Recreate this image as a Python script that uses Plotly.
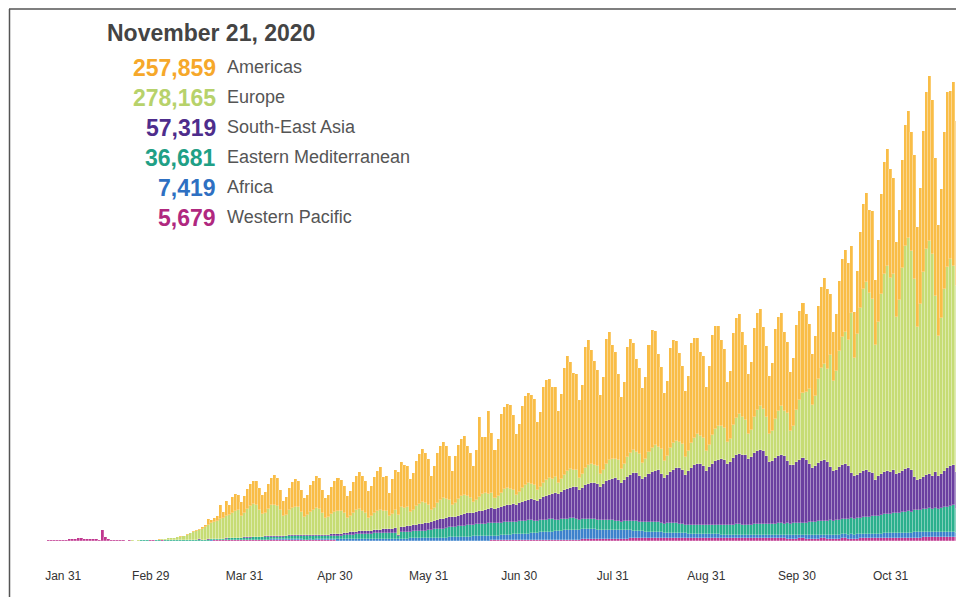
import plotly.graph_objects as go
import pandas as pd

# ---------------- DATA (daily new cases, thousands) ----------------
start_date = "2020-01-23"   # Jan 23 .. Nov 22

western_pacific = [
    0.3, 0.5, 0.7,
    0.8, 1.3, 1.7, 1.5, 1.8, 2.0, 2.1,
    2.6, 2.8, 3.2, 3.9, 3.7, 3.2, 3.4,
    2.7, 3.0, 2.5, 2.0, 15.1, 5.1, 2.6,
    2.1, 2.0, 1.9, 1.8, 0.9, 0.6, 0.9,
    0.6, 0.5, 0.5, 0.6, 0.6, 0.7, 0.8,
    0.8, 0.7, 0.6, 0.8, 0.6, 0.6, 0.5,
    0.5, 0.5, 0.4, 0.4, 0.4, 0.4, 0.4,
    0.4, 0.5, 0.5, 0.5, 0.6, 0.7, 0.9,
    0.9, 0.8, 0.9, 0.9, 1.0, 1.0, 1.1,
    1.0, 0.9, 1.0, 1.0, 1.1, 1.1, 1.0,
    1.1, 1.2, 1.2, 1.2, 1.3, 1.3, 1.2,
    1.4, 1.5, 1.5, 1.5, 1.6, 1.6, 1.5,
    1.2, 1.0, 1.0, 1.0, 0.9, 0.9, 0.9,
    0.8, 0.8, 0.8, 0.8, 0.8, 0.7, 0.7,
    0.6, 0.6, 0.6, 0.6, 0.6, 0.6, 0.6,
    0.6, 0.6, 0.6, 0.6, 0.6, 0.6, 0.6,
    0.5, 0.5, 0.5, 0.5, 0.5, 0.5, 0.5,
    0.5, 0.5, 0.5, 0.5, 0.5, 0.5, 0.5,
    0.6, 0.6, 0.6, 0.6, 0.6, 0.6, 0.6,
    0.7, 0.7, 0.7, 0.7, 0.7, 0.7, 0.7,
    0.7, 0.7, 0.7, 0.7, 0.7, 0.7, 0.7,
    0.8, 0.8, 0.8, 0.8, 0.8, 0.8, 0.8,
    0.9, 0.9, 1.0, 1.0, 1.0, 1.1, 1.1,
    1.1, 1.1, 1.2, 1.2, 1.2, 1.3, 1.3,
    1.6, 1.7, 1.7, 1.8, 1.9, 1.9, 2.0,
    2.1, 2.1, 2.2, 2.2, 2.3, 2.3, 2.4,
    2.6, 2.6, 2.7, 2.8, 2.9, 3.0, 3.0,
    3.2, 3.3, 3.4, 3.5, 3.6, 3.7, 3.7,
    3.8, 3.9, 4.0, 4.0, 4.1, 4.1, 4.1,
    4.0, 3.9, 4.0, 4.0, 4.1, 4.1, 4.0,
    4.0, 3.9, 4.0, 4.0, 4.1, 4.0, 3.9,
    3.8, 3.7, 3.8, 3.8, 3.9, 3.9, 3.8,
    3.8, 3.7, 3.7, 3.8, 3.9, 3.9, 3.8,
    3.7, 3.6, 3.7, 3.7, 3.8, 3.8, 3.7,
    3.7, 3.6, 3.7, 3.7, 3.8, 3.8, 3.7,
    3.5, 3.4, 3.5, 3.5, 3.6, 3.6, 3.5,
    3.4, 3.3, 3.4, 3.5, 3.6, 3.6, 3.5,
    3.4, 3.3, 3.4, 3.5, 3.6, 3.6, 3.5,
    3.5, 3.4, 3.5, 3.6, 3.7, 3.7, 3.6,
    3.9, 3.8, 3.9, 4.0, 4.1, 4.1, 4.0,
    4.4, 4.3, 4.4, 4.5, 4.6, 4.6, 4.5,
    4.9, 4.8, 4.9, 5.0, 5.1, 5.2, 5.1,
    5.3, 5.2, 5.3, 5.4, 5.5, 5.6, 5.679,
    5.0,
]

africa = [
    0, 0, 0,
    0, 0, 0, 0, 0, 0, 0,
    0, 0, 0, 0, 0, 0, 0,
    0, 0, 0, 0, 0, 0, 0,
    0, 0, 0, 0, 0, 0, 0,
    0, 0, 0, 0, 0, 0, 0,
    0, 0, 0, 0, 0.01, 0.01, 0.02,
    0.02, 0.02, 0.03, 0.03, 0.04, 0.05, 0.06,
    0.05, 0.05, 0.08, 0.1, 0.1, 0.15, 0.2,
    0.2, 0.3, 0.3, 0.4, 0.4, 0.5, 0.6,
    0.5, 0.5, 0.6, 0.6, 0.7, 0.7, 0.7,
    0.8, 0.8, 0.9, 0.9, 1.0, 1.0, 1.0,
    1.0, 1.0, 1.0, 1.1, 1.1, 1.1, 1.2,
    1.1, 1.1, 1.1, 1.2, 1.2, 1.3, 1.3,
    1.4, 1.4, 1.5, 1.5, 1.6, 1.6, 1.7,
    1.8, 1.8, 1.9, 2.0, 2.1, 2.2, 2.2,
    2.3, 2.3, 2.4, 2.5, 2.6, 2.7, 2.7,
    2.6, 2.6, 2.7, 2.8, 2.9, 3.0, 3.0,
    3.0, 3.1, 3.2, 3.3, 3.4, 3.5, 3.6,
    3.7, 3.8, 3.9, 4.0, 4.1, 4.2, 4.3,
    4.6, 4.7, 4.9, 5.0, 5.2, 5.3, 5.4,
    5.6, 5.7, 5.9, 6.0, 6.2, 6.3, 6.4,
    6.6, 6.7, 6.9, 7.0, 7.2, 7.3, 7.4,
    8.4, 8.6, 8.8, 9.0, 9.2, 9.4, 9.6,
    10.4, 10.6, 10.8, 11.0, 11.2, 11.4, 11.6,
    12.4, 12.6, 12.8, 13.0, 13.2, 13.4, 13.6,
    13.6, 13.8, 14.0, 14.2, 14.3, 14.2, 14.0,
    13.5, 13.2, 13.2, 13.0, 12.9, 12.8, 12.6,
    12.0, 11.5, 11.5, 11.5, 11.3, 11.0, 10.8,
    10.0, 9.5, 9.3, 9.0, 8.8, 8.6, 8.4,
    8.2, 7.8, 7.6, 7.5, 7.4, 7.3, 7.1,
    7.0, 6.7, 6.5, 6.5, 6.4, 6.3, 6.2,
    6.0, 5.7, 5.5, 5.5, 5.4, 5.3, 5.2,
    5.2, 5.0, 4.9, 5.0, 5.0, 4.9, 4.8,
    4.7, 4.5, 4.4, 4.5, 4.5, 4.4, 4.3,
    4.5, 4.4, 4.4, 4.5, 4.6, 4.5, 4.4,
    4.5, 4.4, 4.4, 4.5, 4.6, 4.6, 4.5,
    4.8, 4.7, 4.8, 5.0, 5.1, 5.2, 5.1,
    5.3, 5.2, 5.3, 5.5, 5.6, 5.7, 5.6,
    5.8, 5.7, 5.8, 6.0, 6.1, 6.2, 6.1,
    6.3, 6.2, 6.3, 6.5, 6.6, 6.7, 6.6,
    6.8, 6.7, 6.8, 7.0, 7.1, 7.2, 7.1,
    7.3, 7.2, 7.3, 7.5, 7.6, 7.7, 7.6,
    7.2, 7.0, 7.1, 7.2, 7.3, 7.4, 7.419,
    6.5,
]

eastern_mediterranean = [
    0, 0, 0,
    0, 0, 0, 0, 0, 0, 0,
    0, 0, 0, 0, 0, 0, 0,
    0, 0, 0, 0, 0, 0, 0,
    0, 0, 0, 0.01, 0.02, 0.03, 0.05,
    0.05, 0.1, 0.1, 0.15, 0.2, 0.2, 0.3,
    0.4, 0.5, 0.6, 0.6, 0.7, 1.1, 1.1,
    1.0, 0.9, 1.0, 1.1, 1.1, 1.4, 1.3,
    1.3, 1.5, 1.4, 1.3, 1.4, 1.5, 1.3,
    1.6, 1.8, 1.9, 2.0, 2.3, 2.5, 2.7,
    2.8, 2.7, 2.9, 3.0, 3.1, 3.2, 3.3,
    3.3, 3.3, 3.4, 3.5, 3.6, 3.7, 3.6,
    3.8, 3.8, 3.9, 4.0, 4.1, 4.2, 4.2,
    4.3, 4.3, 4.4, 4.5, 4.6, 4.7, 4.7,
    4.8, 4.8, 4.9, 5.0, 5.1, 5.2, 5.3,
    6.0, 6.1, 6.3, 6.5, 6.7, 6.8, 6.9,
    7.0, 7.1, 7.3, 7.5, 7.7, 7.8, 7.9,
    8.0, 8.1, 8.3, 8.5, 3.5, 9.0, 9.1,
    9.4, 9.5, 9.8, 10.0, 10.3, 10.5, 10.6,
    11.0, 11.3, 11.7, 12.0, 12.4, 12.7, 13.0,
    14.0, 14.3, 14.7, 15.0, 15.4, 15.7, 16.0,
    16.3, 16.5, 16.8, 17.0, 17.3, 17.5, 17.7,
    17.5, 17.5, 17.8, 18.0, 18.3, 18.5, 18.6,
    17.8, 17.6, 17.8, 18.0, 18.2, 18.3, 18.2,
    17.0, 16.5, 16.8, 17.0, 17.3, 17.5, 17.3,
    16.0, 15.5, 15.8, 16.0, 16.3, 16.5, 16.3,
    14.5, 14.0, 14.0, 14.2, 14.3, 14.2, 14.0,
    13.4, 13.0, 13.0, 13.1, 13.2, 13.0, 12.8,
    12.8, 12.5, 12.7, 13.0, 13.2, 13.3, 13.2,
    13.5, 13.3, 13.6, 14.0, 14.3, 14.5, 14.3,
    13.2, 12.8, 13.0, 13.2, 13.4, 13.3, 13.0,
    12.2, 11.8, 12.0, 12.2, 12.4, 12.3, 12.1,
    12.6, 12.4, 12.8, 13.0, 13.3, 13.4, 13.3,
    13.5, 13.3, 13.6, 14.0, 14.3, 14.5, 14.4,
    14.5, 14.3, 14.7, 15.0, 15.3, 15.5, 15.4,
    15.5, 15.3, 15.7, 16.0, 16.3, 16.5, 16.3,
    16.6, 16.4, 16.8, 17.0, 17.4, 17.6, 17.5,
    18.2, 18.0, 18.5, 19.0, 19.4, 19.6, 19.5,
    20.3, 20.0, 20.6, 21.0, 21.5, 21.8, 21.6,
    22.3, 22.0, 22.6, 23.0, 23.5, 23.8, 23.6,
    25.2, 25.0, 25.5, 26.0, 26.5, 26.8, 26.6,
    28.2, 28.0, 28.6, 29.0, 29.5, 29.8, 29.6,
    31.2, 31.0, 31.6, 32.0, 32.5, 32.8, 32.6,
    33.5, 33.2, 34.0, 34.8, 35.5, 36.0, 36.681,
    33.0,
]

south_east_asia = [
    0, 0, 0,
    0, 0, 0, 0, 0, 0, 0,
    0, 0, 0, 0, 0, 0, 0,
    0, 0, 0, 0, 0, 0, 0,
    0, 0, 0, 0, 0, 0, 0,
    0, 0, 0, 0, 0, 0, 0,
    0, 0, 0, 0.01, 0.02, 0.02, 0.03,
    0.02, 0.03, 0.03, 0.04, 0.05, 0.05, 0.06,
    0.05, 0.07, 0.08, 0.1, 0.1, 0.15, 0.2,
    0.2, 0.3, 0.3, 0.3, 0.4, 0.4, 0.5,
    0.5, 0.5, 0.6, 0.6, 0.6, 0.7, 0.7,
    0.8, 0.8, 0.9, 0.9, 1.0, 1.0, 1.1,
    1.1, 1.2, 1.2, 1.3, 1.4, 1.4, 1.5,
    1.5, 1.5, 1.5, 1.6, 1.7, 1.7, 1.8,
    1.8, 1.8, 1.9, 2.0, 2.1, 2.2, 2.3,
    3.0, 3.1, 3.3, 3.5, 3.7, 3.8, 4.0,
    4.0, 4.1, 4.3, 4.5, 4.7, 4.9, 5.0,
    5.5, 5.5, 5.8, 6.0, 1.5, 6.6, 6.8,
    7.5, 7.8, 8.3, 8.8, 9.3, 9.8, 10.3,
    10.5, 10.5, 11.5, 12.5, 13.3, 14.0, 14.5,
    14.0, 13.5, 14.0, 15.0, 15.5, 16.0, 16.5,
    17.0, 16.5, 17.0, 18.0, 18.5, 19.0, 19.5,
    21.0, 20.0, 21.0, 22.0, 23.0, 23.5, 24.0,
    25.0, 24.0, 25.5, 27.0, 28.0, 29.0, 29.5,
    29.0, 28.0, 30.0, 32.0, 33.0, 34.0, 35.0,
    37.0, 36.0, 38.0, 40.0, 42.0, 43.0, 44.0,
    45.0, 41.0, 44.0, 48.0, 49.0, 50.0, 51.0,
    50.0, 47.0, 51.0, 55.0, 57.0, 58.0, 60.0,
    58.0, 54.0, 58.0, 62.0, 65.0, 67.0, 68.0,
    64.0, 60.0, 63.0, 67.0, 69.0, 71.0, 72.0,
    69.0, 64.0, 68.0, 72.0, 75.0, 77.0, 78.0,
    76.0, 70.0, 75.0, 80.0, 83.0, 85.0, 86.0,
    82.0, 76.0, 81.0, 86.0, 89.0, 91.0, 93.0,
    91.0, 86.0, 88.0, 94.0, 97.0, 99.0, 98.0,
    97.0, 93.0, 95.0, 100.0, 103.0, 104.0, 103.0,
    95.0, 88.0, 88.0, 92.0, 95.0, 96.0, 94.0,
    88.0, 82.0, 82.0, 86.0, 88.0, 90.0, 88.0,
    82.0, 76.0, 78.0, 82.0, 84.0, 85.0, 83.0,
    74.0, 69.0, 70.0, 73.0, 76.0, 77.0, 75.0,
    64.0, 60.0, 61.0, 63.0, 65.0, 66.0, 64.0,
    60.0, 50.0, 56.0, 58.0, 60.0, 61.0, 59.0,
    60.0, 55.0, 56.0, 58.0, 59.0, 60.0, 58.0,
    46.0, 42.0, 43.0, 45.0, 47.0, 48.0, 46.0,
    50.0, 46.0, 48.0, 51.0, 54.0, 56.0, 57.319,
    52.0,
]

europe = [
    0, 0, 0,
    0, 0, 0, 0, 0, 0, 0,
    0, 0, 0, 0, 0, 0, 0,
    0, 0, 0, 0, 0, 0, 0,
    0, 0, 0, 0, 0, 0.02, 0.05,
    0.1, 0.1, 0.15, 0.2, 0.3, 0.4, 0.5,
    0.6, 0.7, 0.9, 1.0, 1.3, 1.8, 2.2,
    3.0, 4.0, 4.5, 5.5, 7.0, 9.0, 10.5,
    12, 13, 15, 17, 20, 23, 24,
    25, 27, 29, 31, 33, 35, 37,
    38, 31, 34, 40, 44, 46, 45,
    38, 32, 33, 39, 43, 44, 42,
    36, 27, 29, 35, 38, 40, 39,
    33, 26, 28, 33, 35, 37, 36,
    30, 23, 25, 29, 31, 33, 32,
    28, 21, 23, 27, 30, 31, 29,
    25, 18, 20, 24, 27, 28, 26,
    26, 19, 21, 25, 28, 29, 27,
    27, 20, 22, 26, 29, 30, 28,
    25, 17, 19, 24, 27, 29, 27,
    24, 17, 19, 23, 26, 27, 25,
    21, 15, 17, 20, 23, 24, 22,
    21, 15, 17, 20, 23, 24, 22,
    20, 14, 16, 19, 22, 23, 21,
    21, 15, 17, 20, 23, 24, 22,
    23, 16, 18, 22, 25, 26, 24,
    24, 17, 19, 23, 26, 27, 25,
    25, 18, 20, 24, 27, 28, 26,
    28, 20, 22, 27, 30, 32, 29,
    31, 22, 25, 30, 34, 36, 33,
    34, 24, 27, 33, 37, 39, 36,
    36, 25, 28, 35, 39, 42, 39,
    40, 28, 32, 40, 45, 48, 46,
    45, 30, 33, 45, 52, 56, 52,
    50, 34, 38, 50, 57, 62, 58,
    55, 38, 42, 55, 62, 68, 64,
    66, 48, 54, 72, 84, 92, 95,
    105, 88, 98, 117, 130, 135, 130,
    157, 126, 139, 163, 179, 185, 176,
    224, 165, 197, 231, 255, 263, 250,
    243, 190, 215, 252, 277, 286, 272,
    275, 220, 242, 284, 313, 323, 307,
    277, 215, 245, 287, 316, 326, 310,
    247, 196, 218, 255, 281, 290, 278.165,
    260,
]

americas = [
    0, 0, 0,
    0, 0, 0, 0, 0, 0, 0,
    0, 0, 0, 0, 0, 0, 0,
    0, 0, 0, 0, 0, 0, 0,
    0, 0, 0, 0, 0, 0, 0,
    0, 0, 0, 0, 0, 0.01, 0.02,
    0.02, 0.04, 0.05, 0.08, 0.1, 0.12, 0.15,
    0.2, 0.3, 0.4, 0.5, 0.7, 0.9, 1.2,
    1.0, 1.5, 2.0, 3.0, 8.0, 4.0, 5.0,
    7, 20, 8, 22, 14, 22, 24,
    22, 19, 24, 27, 30, 33, 33,
    30, 26, 29, 35, 38, 41, 39,
    28, 22, 25, 32, 36, 38, 37,
    31, 26, 29, 37, 40, 46, 44,
    33, 28, 30, 38, 43, 45, 44,
    38, 31, 35, 43, 48, 52, 49,
    45, 38, 42, 50, 56, 60, 48,
    48, 32, 48, 56, 60, 62, 60,
    58, 46, 52, 64, 70, 74, 70,
    64, 48, 58, 70, 76, 78, 74,
    62, 48, 66, 76, 80, 82, 70,
    62, 50, 70, 112, 80, 78, 116,
    85, 68, 80, 110, 115, 118, 118,
    105, 85, 95, 115, 124, 127, 125,
    120, 95, 105, 135, 140, 138, 128,
    125, 100, 120, 150, 160, 150, 135,
    135, 110, 125, 170, 175, 160, 145,
    135, 110, 130, 175, 180, 160, 150,
    120, 100, 115, 155, 160, 150, 130,
    120, 105, 115, 150, 165, 160, 130,
    115, 95, 105, 140, 145, 140, 125,
    110, 92, 105, 140, 140, 135, 118,
    115, 90, 110, 140, 145, 140, 120,
    110, 85, 95, 130, 140, 140, 120,
    105, 85, 95, 125, 135, 135, 115,
    100, 82, 95, 125, 132, 130, 110,
    100, 82, 95, 120, 125, 125, 110,
    90, 72, 84, 102, 114, 120, 112,
    86, 69, 80, 98, 109, 115, 107,
    94, 65, 88, 106, 119, 125, 116,
    123, 90, 115, 139, 156, 164, 153,
    134, 105, 125, 151, 169, 178, 166,
    174, 139, 162, 197, 220, 232, 216,
    193, 155, 181, 219, 245, 235, 257.859,
    232,
]

region_names = ["Americas", "Europe", "South-East Asia",
                "Eastern Mediterranean", "Africa", "Western Pacific"]
latest_values = [257859, 278165, 57319, 36681, 7419, 5679]
headline_date = "November 21, 2020"

tick_dates = ["2020-01-31", "2020-02-29", "2020-03-31", "2020-04-30", "2020-05-31",
              "2020-06-30", "2020-07-31", "2020-08-31", "2020-09-30", "2020-10-31"]
tick_labels = ["Jan 31", "Feb 29", "Mar 31", "Apr 30", "May 31",
               "Jun 30", "Jul 31", "Aug 31", "Sep 30", "Oct 31"]

# ---------------- STYLE ----------------
bar_colors = {
    "Western Pacific": "#C0378F",
    "Africa": "#3C82CC",
    "Eastern Mediterranean": "#2BB08D",
    "South-East Asia": "#6A3FA0",
    "Europe": "#C6DC74",
    "Americas": "#F9BD46",
}
text_colors = {
    "Americas": "#F6A82A",
    "Europe": "#B7D26B",
    "South-East Asia": "#4E2D8C",
    "Eastern Mediterranean": "#1FA086",
    "Africa": "#2E70C2",
    "Western Pacific": "#B0287F",
}

series = [
    ("Western Pacific", western_pacific),
    ("Africa", africa),
    ("Eastern Mediterranean", eastern_mediterranean),
    ("South-East Asia", south_east_asia),
    ("Europe", europe),
    ("Americas", americas),
]

n = len(western_pacific)
for name, vals in series:
    if len(vals) != n:
        raise ValueError(f"{name} has {len(vals)} values, expected {n}")

dates = pd.date_range(start_date, periods=n, freq="D")
opac = [1.0] * (n - 1) + [0.55]   # last (partial) day drawn lighter

# The page body has an 8px margin, so the figure is drawn 8px in from the
# top-left corner; everything below is laid out in page pixel coordinates.
OFF = 8
W, H = 964 - OFF, 597 - OFF
PLOT_L, PLOT_R, PLOT_T, PLOT_B = 30, 960, 60, 541   # page pixels
ML, MR, MT, MB = PLOT_L - OFF, 964 - PLOT_R, PLOT_T - OFF, 597 - PLOT_B
PW, PH = PLOT_R - PLOT_L, PLOT_B - PLOT_T
def px(x):
    return (x - PLOT_L) / PW
def py(y):
    return (PLOT_B - y) / PH

fig = go.Figure()
for name, vals in series:
    fig.add_trace(go.Bar(
        x=dates, y=vals, name=name,
        marker=dict(color=bar_colors[name],
                    line=dict(width=0.5, color="rgba(255,255,255,0.45)"),
                    opacity=opac),
        hoverinfo="skip",
    ))

font_fam = "Liberation Sans, Arial, Helvetica, sans-serif"
annotations = [dict(
    text=f"<b>{headline_date}</b>", x=px(105), y=py(33), xref="paper", yref="paper",
    xanchor="left", yanchor="middle", showarrow=False,
    font=dict(family=font_fam, size=23, color="#444444"))]
for i, (name, v) in enumerate(zip(region_names, latest_values)):
    yy = 68 + 30 * i
    annotations.append(dict(
        text=f"<b>{v:,}</b>", x=px(218), y=py(yy), xref="paper", yref="paper",
        xanchor="right", yanchor="middle", showarrow=False,
        font=dict(family=font_fam, size=23, color=text_colors[name])))
    annotations.append(dict(
        text=name, x=px(225), y=py(yy - 1), xref="paper", yref="paper",
        xanchor="left", yanchor="middle", showarrow=False,
        font=dict(family=font_fam, size=18, color="#555555")))

shapes = [
    dict(type="line", xref="paper", yref="paper", x0=px(9), x1=px(966), y0=py(9), y1=py(9),
         line=dict(color="#555555", width=1.5)),
    dict(type="line", xref="paper", yref="paper", x0=px(9.5), x1=px(9.5), y0=py(9), y1=py(600),
         line=dict(color="#555555", width=1.5)),
]

fig.update_layout(
    width=W, height=H,
    margin=dict(l=ML, r=MR, t=MT, b=MB, pad=0),
    barmode="stack", bargap=0,
    showlegend=False,
    plot_bgcolor="white", paper_bgcolor="white",
    font=dict(family=font_fam),
    annotations=annotations, shapes=shapes,
    xaxis=dict(
        type="date", range=["2020-01-20", "2020-11-23"],
        tickvals=tick_dates, ticktext=tick_labels,
        showgrid=False, zeroline=False, showline=False,
        ticks="outside", ticklen=24, tickcolor="rgba(0,0,0,0)",
        tickfont=dict(family=font_fam, size=12, color="#333333"),
    ),
    yaxis=dict(range=[0, 673.4], visible=False, fixedrange=True),
)

fig.write_html("out.html")
